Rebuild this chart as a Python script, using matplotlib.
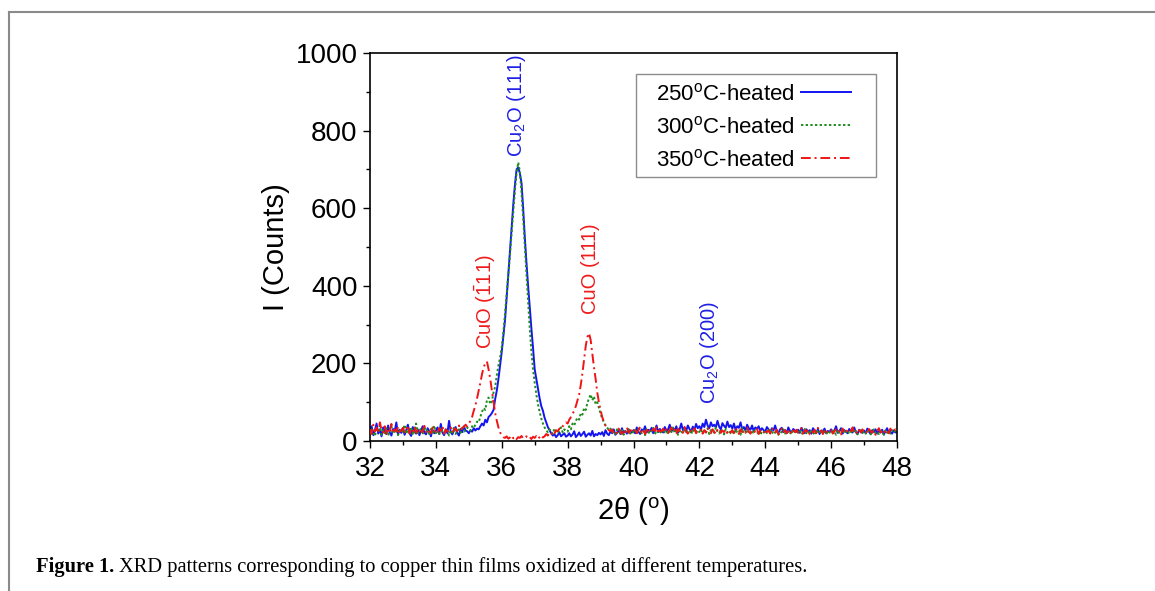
import numpy as np
import matplotlib
matplotlib.use("Agg")
import matplotlib.pyplot as plt
from matplotlib.lines import Line2D
from matplotlib.patches import Rectangle
from matplotlib.ticker import MultipleLocator

plt.rcParams['font.family'] = ['Liberation Sans', 'DejaVu Sans']
plt.rcParams['mathtext.fontset'] = 'custom'
plt.rcParams['mathtext.rm'] = 'Liberation Sans'
plt.rcParams['mathtext.it'] = 'Liberation Sans:italic'
plt.rcParams['mathtext.bf'] = 'Liberation Sans:bold'

# 2-theta grid (degrees), step 0.05 from 32 to 48
two_theta_start = 32.0
two_theta_step = 0.05
n_points = 321
two_theta = np.round(two_theta_start + two_theta_step * np.arange(n_points), 2)

counts_250 = [
    22, 38, 15, 28, 45, 19, 30, 12, 35, 25, 18, 40, 22, 14, 31, 26, 48, 17, 29, 21,
    33, 16, 27, 42, 20, 13, 36, 24, 19, 30, 15, 28, 38, 22, 17, 33, 25, 12, 29, 20,
    26, 35, 18, 44, 22, 15, 30, 20, 52, 24, 17, 28, 36, 21, 14, 31, 23, 38, 27, 25,
    20, 28, 24, 33, 27, 32, 30, 38, 45, 40, 55, 48, 62, 66, 72, 80, 108, 130, 160, 195,
    230, 270, 312, 370, 430, 490, 550, 610, 660, 700, 705, 690, 665, 600, 525, 460, 400, 345, 290, 240,
    185, 160, 135, 110, 90, 78, 60, 48, 36, 28, 20, 14, 18, 10, 15, 22, 12, 16, 20, 11,
    14, 20, 12, 17, 25, 10, 15, 22, 13, 18, 24, 11, 16, 20, 14, 26, 12, 18, 15, 21,
    17, 23, 13, 28, 19, 15, 25, 20, 30, 16, 22, 27, 18, 33, 21, 26, 19, 30, 24, 22,
    28, 20, 35, 24, 18, 30, 26, 38, 22, 29, 25, 34, 20, 27, 40, 23, 31, 26, 22, 36,
    25, 30, 42, 24, 33, 27, 38, 22, 30, 45, 28, 35, 26, 40, 31, 24, 37, 29, 44, 33,
    38, 30, 45, 36, 55, 40, 33, 48, 38, 42, 35, 52, 37, 30, 46, 39, 34, 50, 36, 41,
    32, 45, 28, 38, 34, 48, 30, 36, 27, 42, 33, 29, 40, 25, 35, 31, 38, 26, 33, 28,
    24, 36, 30, 22, 33, 27, 40, 25, 21, 30, 34, 23, 28, 20, 35, 26, 22, 31, 27, 24,
    29, 21, 34, 25, 20, 30, 24, 28, 19, 33, 26, 22, 30, 18, 27, 24, 32, 20, 26, 23,
    30, 22, 27, 38, 21, 25, 33, 19, 28, 24, 20, 31, 26, 22, 35, 23, 18, 29, 25, 21,
    27, 20, 32, 24, 18, 28, 23, 30, 19, 26, 22, 29, 17, 25, 33, 21, 24, 19, 27, 22,
    24,
]

counts_300 = [
    18, 30, 25, 12, 35, 22, 40, 16, 28, 20, 33, 14, 26, 38, 19, 24, 30, 15, 27, 21,
    25, 42, 18, 30, 22, 36, 15, 28, 45, 20, 26, 33, 17, 38, 24, 29, 14, 31, 22, 40,
    20, 27, 16, 34, 23, 19, 30, 25, 14, 28, 22, 36, 18, 26, 30, 21, 33, 24, 28, 35,
    30, 26, 38, 34, 42, 50, 48, 62, 75, 85, 80, 105, 112, 95, 102, 125, 140, 170, 195, 215,
    242, 280, 330, 380, 430, 480, 535, 590, 645, 690, 718, 695, 640, 575, 500, 430, 360, 290, 230, 185,
    150, 120, 95, 75, 58, 45, 35, 28, 22, 30, 25, 18, 32, 24, 20, 28, 35, 22, 30, 26,
    24, 38, 30, 45, 40, 52, 60, 55, 72, 68, 85, 80, 98, 110, 120, 105, 115, 95, 100, 85,
    70, 58, 48, 40, 35, 28, 32, 22, 26, 18, 30, 24, 20, 28, 16, 25, 22, 30, 19, 26,
    22, 28, 18, 32, 24, 20, 27, 15, 30, 23, 19, 26, 34, 21, 17, 28, 24, 20, 31, 22,
    26, 18, 30, 23, 35, 20, 27, 16, 29, 24, 21, 33, 19, 25, 28, 17, 30, 22, 26, 20,
    24, 30, 19, 27, 22, 33, 18, 28, 25, 21, 35, 23, 19, 29, 26, 17, 31, 22, 27, 20,
    25, 18, 30, 22, 27, 16, 33, 21, 26, 19, 28, 24, 17, 30, 23, 20, 27, 15, 25, 22,
    28, 20, 24, 32, 18, 26, 21, 29, 16, 25, 22, 30, 19, 27, 23, 17, 28, 21, 25, 18,
    24, 29, 17, 23, 31, 20, 26, 18, 27, 22, 15, 28, 24, 19, 30, 21, 25, 17, 26, 22,
    20, 27, 23, 16, 29, 21, 25, 32, 19, 24, 28, 18, 22, 30, 20, 26, 17, 23, 28, 21,
    25, 19, 28, 22, 17, 26, 30, 20, 24, 18, 27, 23, 16, 29, 21, 25, 19, 28, 22, 26,
    23,
]

counts_350 = [
    30, 18, 42, 25, 35, 20, 48, 28, 22, 38, 15, 32, 26, 44, 20, 30, 24, 36, 18, 28,
    34, 22, 28, 40, 19, 31, 25, 37, 21, 29, 33, 17, 27, 39, 23, 30, 26, 20, 35, 24,
    28, 21, 33, 26, 38, 19, 30, 24, 27, 35, 22, 29, 32, 25, 40, 28, 34, 36, 42, 38,
    45, 52, 62, 78, 92, 110, 130, 150, 172, 190, 200, 205, 185, 160, 130, 100, 72, 52, 35, 22,
    15, 10, 8, 12, 6, 9, 14, 7, 11, 5, 10, 8, 13, 6, 9, 12, 7, 10, 5, 11,
    8, 13, 6, 10, 15, 9, 12, 18, 14, 20, 16, 24, 19, 28, 25, 32, 30, 38, 42, 48,
    45, 55, 62, 70, 78, 90, 105, 120, 145, 175, 210, 245, 268, 278, 260, 225, 190, 160, 125, 100,
    80, 62, 50, 40, 34, 28, 25, 30, 22, 27, 20, 32, 24, 18, 29, 23, 35, 21, 26, 30,
    24, 33, 20, 28, 36, 22, 30, 18, 27, 34, 25, 21, 31, 26, 38, 19, 28, 24, 32, 22,
    30, 20, 27, 35, 23, 29, 18, 32, 25, 28, 21, 36, 24, 19, 30, 26, 22, 33, 20, 27,
    24, 31, 19, 28, 22, 35, 26, 20, 30, 24, 18, 29, 33, 21, 27, 23, 30, 19, 26, 22,
    28, 20, 33, 25, 18, 30, 23, 27, 21, 35, 24, 19, 29, 26, 22, 31, 18, 27, 24, 20,
    30, 23, 27, 19, 34, 25, 21, 29, 17, 26, 32, 22, 28, 20, 25, 30, 18, 27, 23, 29,
    21, 26, 33, 19, 28, 24, 30, 17, 25, 22, 29, 20, 34, 23, 27, 18, 26, 31, 22, 24,
    28, 19, 25, 30, 22, 27, 17, 32, 24, 20, 29, 23, 26, 35, 21, 25, 18, 28, 22, 30,
    23, 27, 19, 31, 25, 21, 28, 16, 26, 33, 22, 24, 18, 29, 25, 20, 32, 23, 27, 30,
    25,
]

series_labels = ["250$^{\\rm o}$C-heated", "300$^{\\rm o}$C-heated", "350$^{\\rm o}$C-heated"]

peak_labels = ["Cu$_2$O (111)", "CuO ($\\bar{1}$11)", "CuO (111)", "Cu$_2$O (200)"]
peak_positions = [36.45, 35.49, 38.68, 42.3]
peak_label_heights = [732, 238, 328, 95]
peak_colors = ["#1f1fe6", "#ee1c1c", "#ee1c1c", "#1f1fe6"]

x_ticks = [32, 34, 36, 38, 40, 42, 44, 46, 48]
y_ticks = [0, 200, 400, 600, 800, 1000]

caption_bold = "Figure 1."
caption_rest = "XRD patterns corresponding to copper thin films oxidized at different temperatures."

W, H = 1155, 591
fig = plt.figure(figsize=(W / 100, H / 100), dpi=100)
ax = fig.add_axes([370 / W, (H - 441) / H, 527 / W, 388 / H])

ax.plot(two_theta, counts_250, color="#1414f0", lw=1.4, ls="-", label=series_labels[0], zorder=2)
ax.plot(two_theta, counts_300, color="#1e8c1e", lw=1.4, ls=(0, (1.2, 1.2)), label=series_labels[1], zorder=3)
ax.plot(two_theta, counts_350, color="#f01414", lw=1.4, ls=(0, (5, 2, 1, 2)), label=series_labels[2], zorder=4)

for lab, xp, yp, c in zip(peak_labels, peak_positions, peak_label_heights, peak_colors):
    ax.text(xp, yp, lab, rotation=90, ha="center", va="bottom", color=c, fontsize=14.5)

ax.set_xlim(32, 48)
ax.set_ylim(0, 1000)
ax.set_xticks(x_ticks)
ax.set_yticks(y_ticks)
ax.xaxis.set_minor_locator(MultipleLocator(1))
ax.yaxis.set_minor_locator(MultipleLocator(100))
ax.tick_params(which="major", direction="out", length=5, width=1.0, labelsize=20, top=False, right=False)
ax.tick_params(axis="x", which="major", pad=6)
ax.tick_params(axis="y", which="major", pad=4)
ax.tick_params(which="minor", direction="out", length=3, width=1.0, top=False, right=False)
for s in ax.spines.values():
    s.set_linewidth(1.2)

ax.set_xlabel("2\u03b8 ($^{\\rm o}$)", fontsize=21, labelpad=9.5)
ax.set_ylabel("I (Counts)", fontsize=21, labelpad=4)

# legend box (drawn as a separate frame to match the reference padding)
ax.add_patch(Rectangle(((636 - 370) / 527, (441 - 177) / 388), 240 / 527, 103 / 388,
                       transform=ax.transAxes, facecolor="white", edgecolor="#8c8c8c",
                       lw=1.0, zorder=5))
leg = ax.legend(loc="upper left", bbox_to_anchor=((656 - 370) / 527, (441 - 83) / 388),
                borderaxespad=0, fontsize=16, markerfirst=False, frameon=False,
                handlelength=2.25, handletextpad=0.3, labelspacing=0.5, borderpad=0)
leg.set_zorder(6)

# page frame lines
fig.add_artist(Line2D([9 / W, 1], [1 - 12 / H, 1 - 12 / H], color="#8a8a8a", lw=1.5, transform=fig.transFigure))
fig.add_artist(Line2D([9 / W, 9 / W], [0, 1 - 12 / H], color="#8a8a8a", lw=1.5, transform=fig.transFigure))

t1 = fig.text(36 / W, 1 - 567 / H, caption_bold, fontsize=14.8, fontweight="bold",
              family=["Liberation Serif"], va="center", ha="left")
fig.canvas.draw()
bb = t1.get_window_extent(renderer=fig.canvas.get_renderer())
fig.text((bb.x1 + 5) / W, 1 - 567 / H, caption_rest, fontsize=14.8,
         family=["Liberation Serif"], va="center", ha="left")

fig.savefig("out.png", dpi=100)
